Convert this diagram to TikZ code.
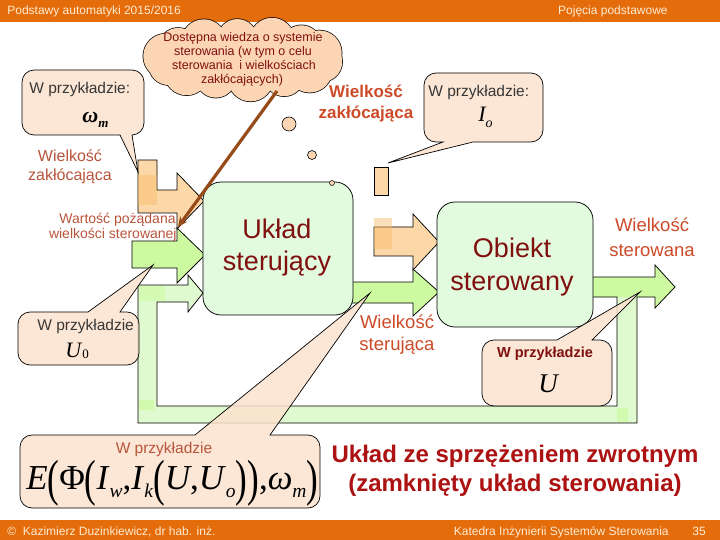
\documentclass[tikz,border=0pt]{standalone}
\usepackage{fontspec}
\setmainfont{Liberation Sans}
\newfontfamily\tms{Liberation Serif}
\usetikzlibrary{arrows.meta}

\definecolor{hdr}{RGB}{228,108,10}
\definecolor{hdrtxt}{RGB}{255,236,212}
\definecolor{peach}{RGB}{252,226,206}
\definecolor{cloudc}{RGB}{252,213,180}
\definecolor{orng}{RGB}{252,216,168}
\definecolor{orngdk}{RGB}{247,186,100}
\definecolor{grnA}{RGB}{205,250,160}
\definecolor{grnF}{RGB}{224,250,208}
\definecolor{grnBox}{RGB}{226,250,222}
\definecolor{boxtxt}{RGB}{128,16,16}
\definecolor{lbl}{RGB}{205,75,40}
\definecolor{lbltwo}{RGB}{185,85,60}
\definecolor{brownln}{RGB}{150,75,25}
\definecolor{bigred}{RGB}{172,18,18}
\definecolor{txtdark}{RGB}{55,55,55}

\newcommand\calloutBot[8]{%
\path[callout] ({#1+12},#2) -- ({#3-12},#2) .. controls ({#3-5.4},#2) and (#3,{#2+5.4}) .. (#3,{#2+12}) -- (#3,{#4-12}) .. controls (#3,{#4-5.4}) and ({#3-5.4},#4) .. ({#3-12},#4) -- (#6,#4) -- (#7,#8) -- (#5,#4) -- ({#1+12},#4) .. controls ({#1+5.4},#4) and (#1,{#4-5.4}) .. (#1,{#4-12}) -- (#1,{#2+12}) .. controls (#1,{#2+5.4}) and ({#1+5.4},#2) .. ({#1+12},#2) -- cycle;}
\newcommand\calloutTop[8]{%
\path[callout] ({#1+12},#2) -- (#5,#2) -- (#7,#8) -- (#6,#2) -- ({#3-12},#2) .. controls ({#3-5.4},#2) and (#3,{#2+5.4}) .. (#3,{#2+12}) -- (#3,{#4-12}) .. controls (#3,{#4-5.4}) and ({#3-5.4},#4) .. ({#3-12},#4) -- ({#1+12},#4) .. controls ({#1+5.4},#4) and (#1,{#4-5.4}) .. (#1,{#4-12}) -- (#1,{#2+12}) .. controls (#1,{#2+5.4}) and ({#1+5.4},#2) .. ({#1+12},#2) -- cycle;}
\newcommand\bp[1]{\raisebox{-6pt}{\scalebox{1}[1.45]{#1}}}
\newcommand\sbx[1]{\raisebox{-8pt}{\fontsize{19.5}{19.5}\selectfont\itshape #1}}

\begin{document}
\begin{tikzpicture}[x=1pt,y=-1pt,line width=0.75pt,
  callout/.style={fill=peach,fill opacity=0.85,draw=black,line width=0.7pt},
  outl/.style={draw=black,line width=0.75pt},
  hdrtext/.style={text=hdrtxt,font=\fontsize{12}{14}\selectfont,inner sep=0pt},
  bigbox/.style={draw=black,fill=grnBox,rounded corners=18pt,inner sep=0pt},
  boxtext/.style={text=boxtxt,font=\fontsize{27}{30}\selectfont,anchor=base,inner sep=0pt},
  lblA/.style={text=lbl,font=\fontsize{18.5}{20}\selectfont,anchor=base,inner sep=0pt},
  lblB/.style={text=lbltwo,inner sep=0pt},
  ctext/.style={text=txtdark,font=\fontsize{15.5}{17}\selectfont,anchor=base west,inner sep=0pt},
  cloudtext/.style={text=boxtxt,font=\fontsize{12.5}{14}\selectfont,anchor=base,inner sep=0pt},
  sym/.style={inner sep=0pt}]
\useasboundingbox (0,0) rectangle (720,540);
\fill[white] (0,0) rectangle (720,540);

% header and footer
\fill[hdr] (0,0) rectangle (720,22);
\fill[hdr] (0,520) rectangle (720,540);
\node[hdrtext,anchor=base west] (hl) at (7,15) {Podstawy automatyki 2015/2016};
\node[hdrtext,anchor=base east] (hr) at (668,15) {Pojęcia podstawowe};
\node[hdrtext,anchor=base west] (fl) at (7,535) {©\ \ Kazimierz Duzinkiewicz, dr hab. inż.};
\node[hdrtext,anchor=base east] (fr) at (669,535) {Katedra Inżynierii Systemów Sterowania};
\node[hdrtext,anchor=base] (pg) at (699,535) {35};

% feedback loop + output arrow
\path[fill=grnF] (593,277) -- (655,277) -- (655,265) -- (675,287) -- (655,308) -- (655,297) -- (637,297) -- (637,423) -- (138,423) -- (138,285) -- (188,285) -- (188,275) -- (203,293) -- (188,312) -- (188,302) -- (157,302) -- (157,406) -- (617,406) -- (617,297) -- (593,297) -- cycle;
\fill[grnA] (593,277) -- (655,277) -- (655,265) -- (675,287) -- (655,308) -- (655,297) -- (593,297) -- cycle;
\fill[grnA,opacity=0.6] (139,286) rectangle (165,301);
\fill[grnA,opacity=0.7] (139,400) rectangle (154,410);
\fill[grnA,opacity=0.7] (617,408) rectangle (628,422);
\path[outl] (593,277) -- (655,277) -- (655,265) -- (675,287) -- (655,308) -- (655,297) -- (637,297) -- (637,423) -- (138,423) -- (138,285) -- (188,285) -- (188,275) -- (203,293) -- (188,312) -- (188,302) -- (157,302) -- (157,406) -- (617,406) -- (617,297) -- (593,297);

% disturbance arrow 1
\path[outl,fill=orng] (138,160) -- (157,160) -- (157,190) -- (177,190) -- (177,173) -- (204,201) -- (177,229) -- (177,213) -- (138,213) -- cycle;
\fill[orngdk,opacity=0.45] (138,175) rectangle (157,205);

% disturbance arrow 2
\path[outl,fill=orng] (374,167) rectangle (388,195);
\path[outl,fill=orng] (374,227) -- (413,227) -- (413,214) -- (439,242) -- (413,270) -- (413,256) -- (374,256) -- cycle;
\fill[orngdk,opacity=0.45] (374,218) rectangle (392,249);

% setpoint arrow
\path[outl,fill=grnA] (132,241) -- (177,241) -- (177,228) -- (205,255) -- (177,283) -- (177,268) -- (132,268) -- cycle;

% control arrow
\path[outl,fill=grnA] (340,282) -- (413,282) -- (413,269) -- (439,292) -- (413,316) -- (413,303) -- (340,303) -- cycle;

% main boxes
\node[bigbox,minimum width=150pt,minimum height=133pt] (ctrl) at (278,248.5) {};
\node[bigbox,minimum width=156pt,minimum height=125pt] (obj) at (515,264.5) {};
\node[boxtext] (ctrlA) at (277,238) {Układ};
\node[boxtext] (ctrlB) at (277,270) {sterujący};
\node[boxtext] (objA) at (512,257) {Obiekt};
\node[boxtext] (objB) at (512,290) {sterowany};

% labels
\node[text=lbl,font=\bfseries\fontsize{17}{19}\selectfont,anchor=base,inner sep=0pt] (dzA) at (366,98) {Wielkość};
\node[text=lbl,font=\bfseries\fontsize{17}{19}\selectfont,anchor=base,inner sep=0pt] (dzB) at (366,119) {zakłócająca};
\node[lblB,font=\fontsize{16}{18}\selectfont,anchor=base] (lzA) at (70,162) {Wielkość};
\node[lblB,font=\fontsize{16}{18}\selectfont,anchor=base] (lzB) at (70,181) {zakłócająca};
\node[lblB,font=\fontsize{14}{16}\selectfont,anchor=base east] (wpA) at (176,223) {Wartość pożądana};
\node[lblB,font=\fontsize{14}{16}\selectfont,anchor=base east] (wpB) at (177,239) {wielkości sterowanej};
\node[lblA] (wsA) at (397,328) {Wielkość};
\node[lblA] (wsB) at (397,350) {sterująca};
\node[lblA] (woA) at (652,232) {Wielkość};
\node[lblA] (woB) at (652,256) {sterowana};

% big bottom text
\node[text=bigred,font=\bfseries\fontsize{24}{26}\selectfont,anchor=base,inner sep=0pt] (tA) at (515,462) {Układ ze sprzężeniem zwrotnym};
\node[text=bigred,font=\bfseries\fontsize{24}{26}\selectfont,anchor=base,inner sep=0pt] (tB) at (515,491) {(zamknięty układ sterowania)};

% callouts
\calloutBot{22}{70}{144}{135}{120}{132}{138}{172}
\node[ctext] (c1t) at (29,94) {W przykładzie:};
\node[sym,anchor=base west] (c1m) at (82,123) {\tms\bfseries\itshape\fontsize{22}{22}\selectfont ω\raisebox{-5pt}{\fontsize{13}{13}\selectfont m}};

\calloutBot{424}{73}{543}{142}{443}{473}{388}{163}
\node[ctext] (c2t) at (428,97) {W przykładzie:};
\node[sym,anchor=base west] (c2m) at (478,122) {\tms\itshape\fontsize{22}{22}\selectfont I\raisebox{-6pt}{\fontsize{14}{14}\selectfont o}};

\calloutTop{18}{312}{139}{365}{88}{120}{153}{265}
\node[ctext] (c3t) at (37,330) {W przykładzie};
\node[sym,anchor=base west] (c3m) at (65,357) {\tms\fontsize{22}{22}\selectfont\textit{U}\raisebox{-1.5pt}{\fontsize{13}{13}\selectfont 0}};

\calloutTop{482}{340}{612}{406}{557}{592}{640}{292}
\node[text=boxtxt,font=\bfseries\fontsize{14.5}{16}\selectfont,anchor=base,inner sep=0pt] (c4t) at (545,357) {W przykładzie};
\node[sym,anchor=base] (c4m) at (548,392) {\tms\itshape\fontsize{27}{27}\selectfont U};

\calloutTop{20}{435}{320}{508}{195}{270}{370}{293}
\node[text=lbltwo,font=\fontsize{15.5}{17}\selectfont,anchor=base,inner sep=0pt] (c5t) at (164,453) {W przykładzie};
\node[sym,anchor=base west] (c5m) at (26,489) {\tms\fontsize{35}{35}\selectfont \textit{E}\bp{(}Φ\bp{(}\textit{I}\sbx{w},\textit{I}\sbx{k}\bp{(}\textit{U},\textit{U}\sbx{o}\bp{)}\bp{)},\textit{ω}\sbx{m}\bp{)}};

% cloud (union of puffs)
\foreach \i in {0,...,13} {
  \pgfmathsetmacro\ang{\i*360/14+8}
  \pgfmathsetmacro\rr{20+2.5*mod(\i,2)}
  \draw[black,line width=1.4pt] ({244+79*cos(\ang)},{59+20*sin(\ang)}) circle[radius=\rr];
}
\foreach \i in {0,...,13} {
  \pgfmathsetmacro\ang{\i*360/14+8}
  \pgfmathsetmacro\rr{20+2.5*mod(\i,2)}
  \fill[cloudc] ({244+79*cos(\ang)},{59+20*sin(\ang)}) circle[radius=\rr];
}
\fill[cloudc] (244,59) ellipse[x radius=84, y radius=26];
\coordinate (cloud) at (244,59);
\node[cloudtext] (k1) at (243,42) {Dostępna wiedza o systemie};
\node[cloudtext] (k2) at (243,56) {sterowania (w tym o celu};
\node[cloudtext] (k3) at (244,70) {sterowania \ i wielkościach};
\node[cloudtext] (k4) at (242,84) {zakłócających)};
\node[circle,draw=black,fill=cloudc,line width=0.6pt,minimum size=14pt,inner sep=0pt] (d1) at (289,124) {};
\node[circle,draw=black,fill=cloudc,line width=0.6pt,minimum size=9pt,inner sep=0pt] (d2) at (312,155) {};
\node[circle,draw=black,fill=cloudc,line width=0.5pt,minimum size=5pt,inner sep=0pt] (d3) at (332,183) {};

% brown pointer
\coordinate (bs) at (277,91);
\coordinate (be) at (178,227);
\draw[brownln,line width=3.2pt,-{Stealth[length=10pt,width=9pt]}] (bs) -- (be);
\end{tikzpicture}
\end{document}
